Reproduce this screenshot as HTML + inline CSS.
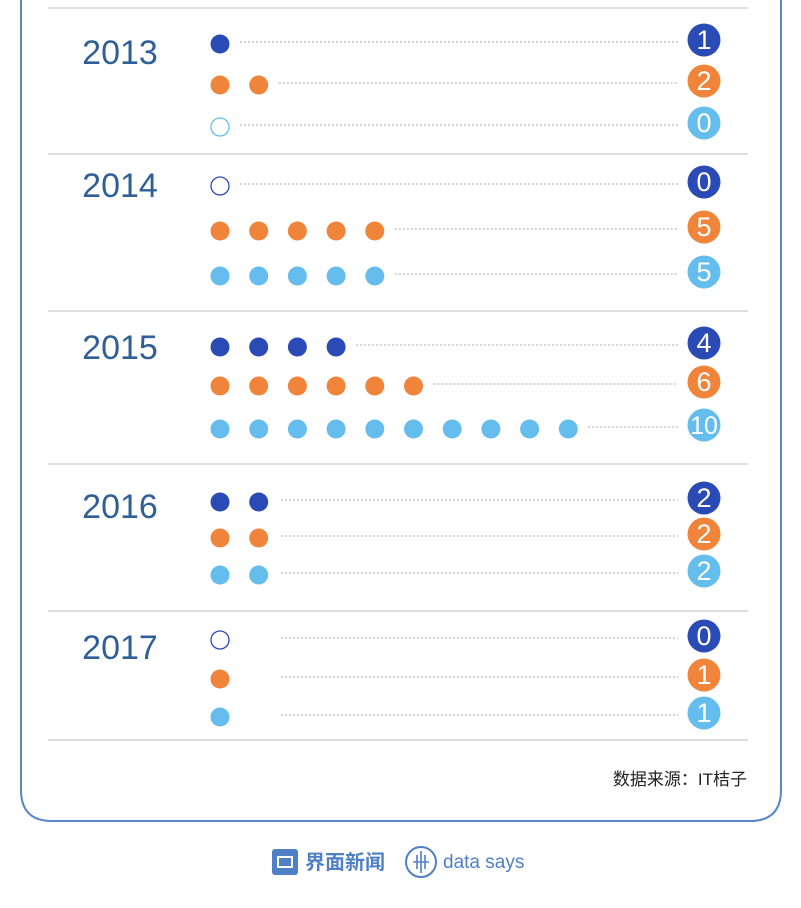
<!DOCTYPE html>
<html><head><meta charset="utf-8"><style>
body{margin:0;width:801px;height:908px;background:#fff;overflow:hidden;font-family:"Liberation Sans","Noto Sans CJK SC",sans-serif}
svg{display:block}
</style></head><body>
<svg width="801" height="908">
<path d="M21 0 V790 Q21 821 52 821 H750 Q781 821 781 790 V0" fill="none" stroke="#5b86c8" stroke-width="2"/>
<g id="chart"></g>
<text x="747" y="785" text-anchor="end" font-size="17" fill="#222">数据来源：IT桔子</text>
<g>
<rect x="272" y="849" width="26" height="26" rx="3" fill="#4f80c6"/>
<rect x="278" y="857" width="14" height="10" fill="none" stroke="#fff" stroke-width="2"/>
<text x="305" y="869" font-size="20" font-weight="bold" fill="#4f80c6">界面新闻</text>
</g>
<g>
<circle cx="421" cy="862" r="15" fill="none" stroke="#4f80c6" stroke-width="2"/>
<path d="M413 862h16M417 855v14M421 851v22M425 855v14" stroke="#4f80c6" stroke-width="1.6"/>
<text x="443" y="868" font-size="19" fill="#4f80c6">data says</text>
</g>
</svg>
<script>
const years=["2013","2014","2015","2016","2017"];
const darkValues=[1,0,4,2,0];
const orangeValues=[2,5,6,2,1];
const lightValues=[0,5,10,2,1];
const colors=["#2a4bb5","#f0843a","#65bdee"];
const series=[darkValues,orangeValues,lightValues];
const sepY=[8,154,311,464,611,740];
const rowY=[[44,85,127],[186,231,276],[347,386,429],[502,538,575],[640,679,717]];
const yearY=[64,197,359,518,659];
const ns="http://www.w3.org/2000/svg";
const g=document.getElementById("chart");
function mk(t,a){const e=document.createElementNS(ns,t);for(const k in a)e.setAttribute(k,a[k]);g.appendChild(e);return e;}
function dotX(i){return 220+i*38.7;}
sepY.forEach(y=>{const l=mk("line",{x1:48,x2:748,y1:y,y2:y,stroke:"#d3d3d3","stroke-width":1.5});

});
years.forEach((yr,yi)=>{
 const t=mk("text",{x:120,y:yearY[yi],"text-anchor":"middle","font-size":34,fill:"#2f5f96"});t.textContent=yr;
 
 
 series.forEach((vals,si)=>{
  const v=vals[yi],cy=rowY[yi][si],c=colors[si];
  if(v===0){const e=mk("circle",{cx:220,cy:cy,r:9,fill:"#fff",stroke:c,"stroke-width":1.3});
   
   }
  for(let i=0;i<v;i++){const d=mk("circle",{cx:dotX(i),cy:cy,r:9.5,fill:c});
   
   }
  let sx=dotX(Math.max(v,1)-1)+20;
  if(yi>=3) sx=281;
  const ln=mk("line",{x1:sx,x2:678,y1:cy-2,y2:cy-2,stroke:"#aaa","stroke-width":1,"stroke-dasharray":"2,2"});
  
  
  const b=mk("circle",{cx:704,cy:cy-4,r:16.5,fill:c});
  
  
  const bt=mk("text",{x:704,y:cy+5,"text-anchor":"middle","font-size":v>=10?25:27,fill:"#fff"});bt.textContent=v;
  
  
 });
});
</script>
</body></html>
